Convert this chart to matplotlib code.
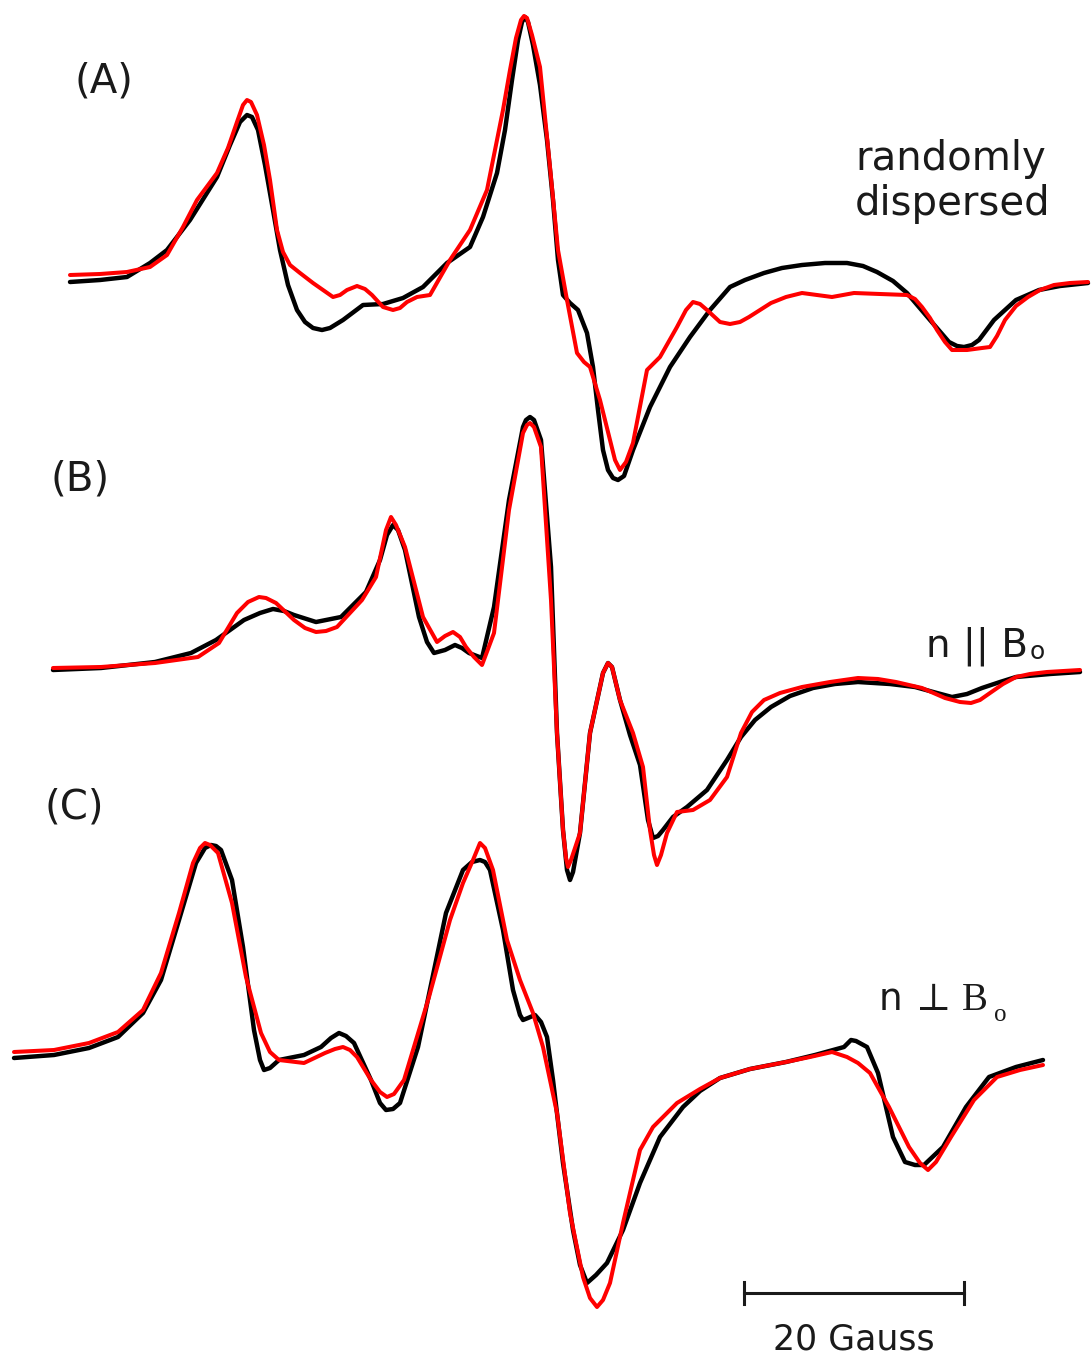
import matplotlib
matplotlib.use("Agg")
import matplotlib.pyplot as plt

# ---- data (field position, signal level in image units) ----
# Panel A: randomly dispersed
a_exp_x = [70,100,127,150,167,190,217,230,240,247,252,258,265,273,280,288,297,305,313,322,330,343,363,383,403,423,447,470,483,497,505,512,518,522,525,528,533,540,547,553,558,563,570,578,587,593,598,603,608,613,618,624,633,650,670,690,710,730,745,764,782,802,825,847,863,877,893,907,930,949,957,964,972,979,994,1016,1039,1060,1088]
a_exp_y = [282,280,277,263,250,220,177,145,122,115,117,130,165,210,250,285,310,322,328,330,328,320,305,304,298,287,263,247,217,173,130,80,40,22,17,22,45,85,140,200,260,295,303,310,333,367,410,450,470,478,480,476,450,407,367,337,310,287,280,273,268,265,263,263,266,272,281,293,320,342,346,347,345,340,320,300,290,286,283]
a_sim_x = [70,100,127,150,167,183,197,217,228,237,243,247,251,257,264,270,277,283,290,300,313,323,333,340,347,357,365,372,383,393,400,407,417,430,450,470,487,503,510,516,521,524,527,532,540,550,558,567,577,584,590,600,610,615,620,626,633,647,660,677,686,693,700,707,720,730,740,749,760,771,786,802,832,854,880,907,915,922,930,937,945,952,967,982,990,997,1005,1016,1028,1040,1054,1070,1088]
a_sim_y = [275,274,272,267,255,227,200,173,148,122,105,100,102,115,145,180,230,252,265,273,283,290,297,295,290,286,289,295,307,310,308,302,297,295,260,230,190,110,70,38,20,16,18,35,67,167,250,300,353,362,367,400,440,460,470,462,443,370,357,327,310,302,304,310,322,324,322,317,310,303,297,293,297,293,294,295,299,307,318,330,342,350,350,348,347,336,320,306,297,290,285,283,282]

# Panel B: n || Bo
b_exp_x = [53,101,155,191,216,244,260,273,284,294,316,341,366,380,387,393,398,405,419,427,434,445,455,462,469,482,494,509,523,526,530,534,541,551,557,563,567,570,573,580,590,603,608,612,620,630,640,648,653,658,663,673,687,707,727,741,755,771,790,813,835,858,890,915,937,952,967,982,1000,1016,1050,1080]
b_exp_y = [670,668,662,653,640,620,613,609,611,615,622,617,592,560,535,525,530,550,617,642,653,650,645,648,653,658,607,500,427,420,417,420,440,567,733,830,870,880,872,833,733,673,663,667,700,735,765,820,838,836,830,817,807,790,760,737,720,707,696,688,684,682,684,687,693,697,694,688,682,677,674,672]
b_sim_x = [53,101,155,198,219,237,248,259,266,276,294,305,316,326,337,362,376,386,391,396,405,423,437,445,453,460,466,474,482,494,509,523,527,530,534,541,551,557,563,566,568,571,580,590,603,608,612,620,633,643,650,654,657,661,667,677,693,710,727,741,752,764,780,802,830,858,878,896,922,945,960,971,980,990,1003,1016,1030,1047,1080]
b_sim_y = [668,667,663,657,643,613,602,597,598,603,620,628,632,631,627,600,577,530,517,525,547,617,642,636,632,637,647,657,665,633,510,433,425,423,427,447,600,733,830,858,867,860,833,733,673,663,667,700,733,767,830,855,865,855,833,812,810,800,777,733,712,700,693,687,682,678,679,682,688,698,702,703,700,693,684,677,674,672,670]

# Panel C: n perp Bo
c_exp_x = [14,54,89,118,143,161,179,196,205,211,216,221,232,243,254,260,264,270,279,304,321,331,339,346,354,371,380,386,393,400,418,432,446,463,472,480,485,490,503,513,520,523,528,535,541,547,553,563,573,580,587,596,607,623,640,660,683,700,720,750,786,815,844,851,856,867,878,893,905,915,924,943,966,989,1016,1043]
c_exp_y = [1058,1055,1048,1037,1013,980,920,863,848,845,846,850,880,947,1030,1060,1070,1068,1060,1055,1047,1038,1033,1036,1043,1080,1103,1110,1109,1103,1047,980,913,870,862,860,862,870,930,990,1015,1020,1018,1015,1022,1037,1080,1163,1230,1265,1283,1275,1263,1230,1183,1137,1107,1091,1078,1069,1062,1055,1047,1040,1041,1047,1073,1137,1162,1165,1165,1147,1107,1077,1067,1060]
c_sim_x = [14,54,89,118,143,161,179,193,200,205,210,218,232,246,261,270,279,304,325,335,343,350,357,371,380,387,394,404,429,450,463,473,480,485,493,507,520,533,543,557,570,583,590,597,603,610,623,640,653,677,700,720,750,786,810,832,847,858,870,889,909,920,928,936,951,974,997,1020,1043]
c_sim_y = [1052,1050,1043,1032,1010,973,913,863,848,843,845,853,903,977,1033,1052,1060,1063,1053,1049,1047,1050,1057,1080,1092,1097,1094,1080,997,920,883,860,843,848,870,940,980,1013,1047,1113,1213,1277,1298,1307,1300,1283,1223,1150,1127,1103,1089,1078,1069,1062,1057,1052,1057,1063,1073,1107,1147,1163,1170,1162,1137,1100,1077,1070,1065]

panel_labels = ["(A)", "(B)", "(C)"]
scale_bar_label = "20 Gauss"
scale_bar_ends = [744, 964]

# ---- drawing ----
fig = plt.figure(figsize=(10.91, 13.55), dpi=100)
ax = fig.add_axes([0, 0, 1, 1])
ax.set_xlim(0, 1091)
ax.set_ylim(1355, 0)
ax.axis("off")

exp_kw = dict(color="black", lw=3.2, solid_joinstyle="round", solid_capstyle="round")
sim_kw = dict(color="#ff0000", lw=2.9, solid_joinstyle="round", solid_capstyle="round")

for ex, ey, sx, sy in [(a_exp_x, a_exp_y, a_sim_x, a_sim_y),
                       (b_exp_x, b_exp_y, b_sim_x, b_sim_y),
                       (c_exp_x, c_exp_y, c_sim_x, c_sim_y)]:
    ax.plot(ex, ey, **exp_kw)
    ax.plot(sx, sy, **sim_kw)

fs = 29
txt = dict(color="#1a1a1a", family="DejaVu Sans")
ax.text(75, 82, panel_labels[0], fontsize=fs, ha="left", va="center", **txt)
ax.text(50, 479, panel_labels[1], fontsize=fs, ha="left", va="center", **txt)
ax.text(44, 808, panel_labels[2], fontsize=fs, ha="left", va="center", **txt)

ax.text(855, 170, "randomly", fontsize=fs, ha="left", va="baseline", **txt)
ax.text(855, 215, "dispersed", fontsize=fs, ha="left", va="baseline", **txt)

# n || Bo
ax.text(1028, 656, "n || B", fontsize=28, ha="right", va="baseline", **txt)
ax.text(1030, 659, "o", fontsize=18, ha="left", va="baseline", **txt)

# n perp Bo
ax.text(879, 1010, "n", fontsize=27, ha="left", va="baseline", **txt)
ax.text(916, 1010, "\u22a5", fontsize=27, ha="left", va="baseline", color="#1a1a1a",
        family=["DejaVu Serif", "DejaVu Sans"])
ax.text(962, 1010, "B", fontsize=28, ha="left", va="baseline", color="#1a1a1a",
        family=["Liberation Serif", "DejaVu Serif"])
ax.text(994, 1021, "o", fontsize=18, ha="left", va="baseline", color="#1a1a1a",
        family=["Liberation Serif", "DejaVu Serif"])

# scale bar
ax.plot(scale_bar_ends, [1293, 1293], color="#1a1a1a", lw=2.2)
for xe in scale_bar_ends:
    ax.plot([xe, xe], [1282, 1304], color="#1a1a1a", lw=2.2)
ax.text(sum(scale_bar_ends) / 2, 1350, scale_bar_label, fontsize=25, ha="center",
        va="baseline", **txt)

fig.savefig("out.png", dpi=100)
